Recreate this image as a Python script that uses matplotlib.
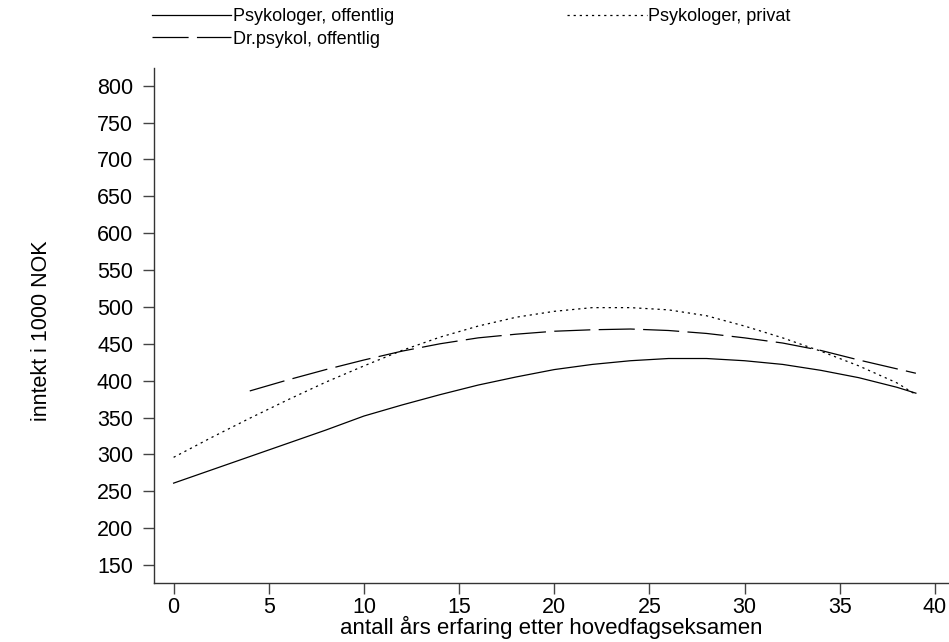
#  Inntekt etter erfaring - psykologer

import numpy as np
import matplotlib.pyplot as plt

plt.rcParams['font.family'] = ['Liberation Sans', 'DejaVu Sans']
plt.rcParams['lines.scale_dashes'] = False

# years of experience
years = [0, 2, 4, 6, 8, 10, 12, 14, 16, 18, 20, 22, 24, 26, 28, 30, 32, 34, 36, 38, 39]
years_dr = [4, 6, 8, 10, 12, 14, 16, 18, 20, 22, 24, 26, 28, 30, 32, 34, 36, 38, 39]

# income, 1000 NOK
psyk_off = [261, 279, 297, 315, 333, 352, 367, 381, 394, 405, 415, 422, 427, 430, 430, 427, 422, 414, 404, 391, 383]
psyk_priv = [296, 323, 349, 374, 398, 420, 441, 459, 474, 486, 494, 499, 499, 496, 488, 474, 458, 440, 420, 397, 381]
dr_off = [386, 401, 415, 428, 440, 450, 458, 463, 467, 469, 470, 468, 464, 458, 451, 441, 428, 416, 410]

labels = ["Psykologer, offentlig", "Dr.psykol, offentlig", "Psykologer, privat"]
yticks = np.arange(150, 801, 50)
xticks = np.arange(0, 41, 5)

fig = plt.figure(figsize=(9.49, 6.42), dpi=100)
ax = fig.add_axes([0.1623, 0.0924, 0.8377, 0.8017])

l1, = ax.plot(years, psyk_off, color='black', lw=0.9)
l2, = ax.plot(years_dr, dr_off, color='black', lw=0.9, dashes=(26, 6))
l3, = ax.plot(years, psyk_priv, color='black', lw=0.9, dashes=(1.6, 2.8))

ax.set_xlim(-1.03, 40.74)
ax.set_ylim(126, 824)
ax.set_xticks(xticks)
ax.set_yticks(yticks)

for s in ['top', 'right']:
    ax.spines[s].set_visible(False)
for s in ['left', 'bottom']:
    ax.spines[s].set_color('#333333')
    ax.spines[s].set_linewidth(1)

ax.tick_params(axis='both', labelsize=15.5, color='#444444', length=8, width=1)
ax.tick_params(axis='x', pad=2)
ax.tick_params(axis='y', pad=7)

ax.set_xlabel("antall års erfaring etter hovedfagseksamen", fontsize=16, labelpad=-1)
ax.set_ylabel("inntekt i 1000 NOK", fontsize=15.5)
ax.yaxis.set_label_coords(-0.128, 0.49)

fig.legend([l1, l2, l3], labels, ncol=2, loc='upper left',
           bbox_to_anchor=(0.160, 0.987), frameon=False, fontsize=13,
           handlelength=4.4, handletextpad=0.08, columnspacing=9.6,
           labelspacing=0.3, borderpad=0.0, borderaxespad=0.0)

plt.savefig("out.png", dpi=100)
